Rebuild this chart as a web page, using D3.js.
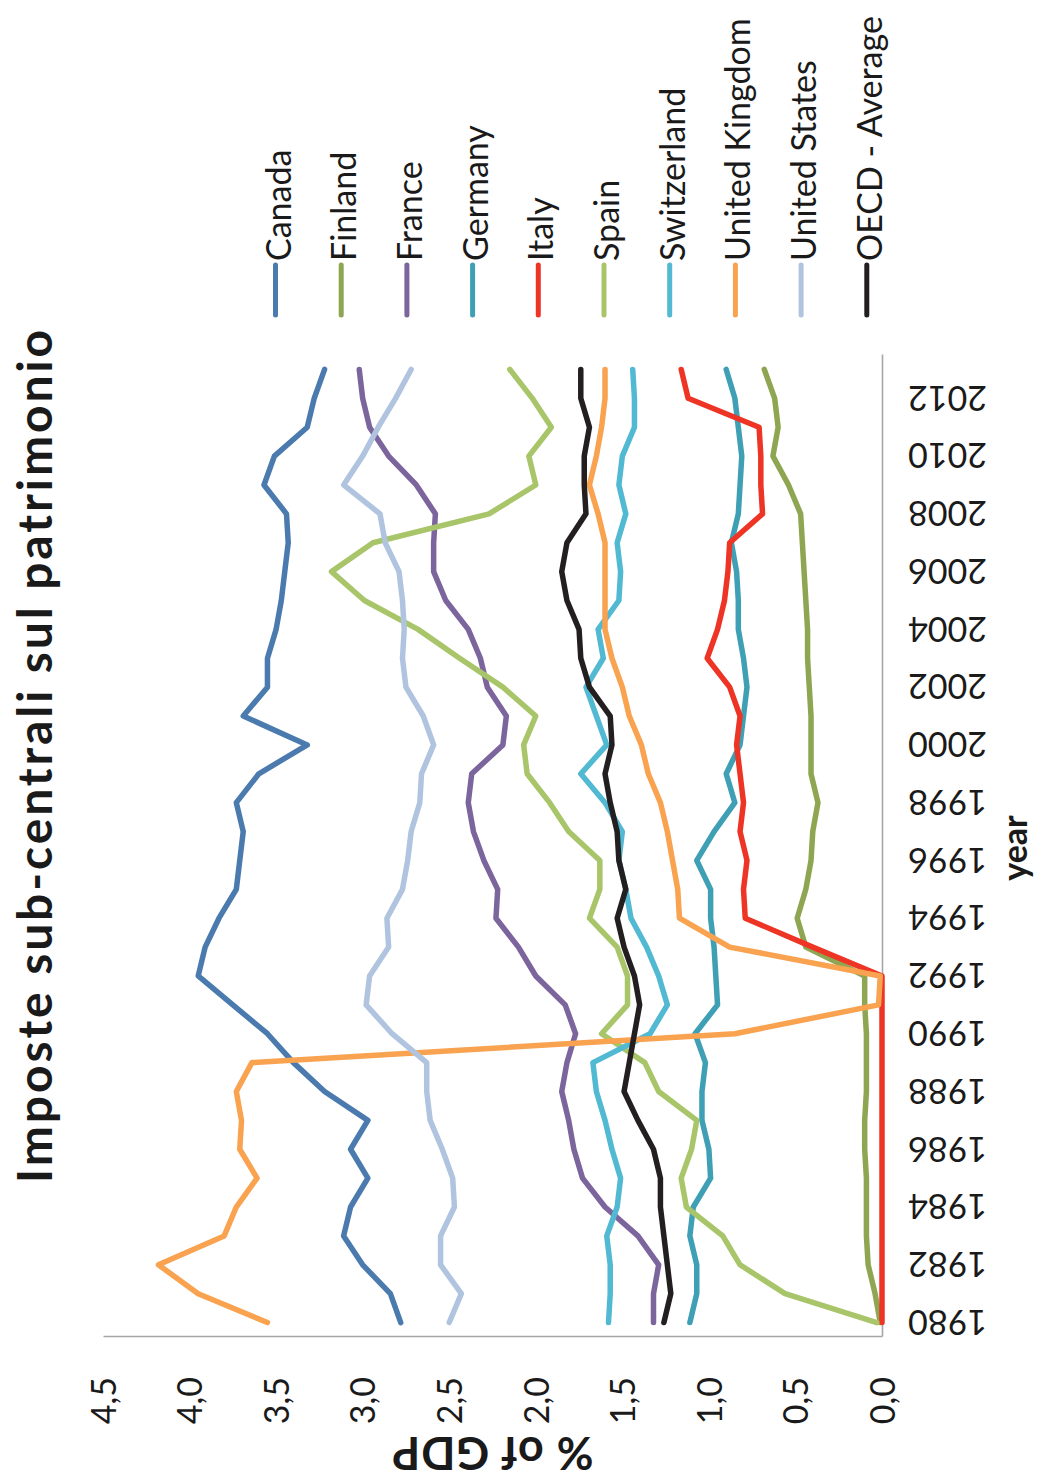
<!DOCTYPE html>
<html>
<head>
<meta charset="utf-8">
<script src="https://cdn.jsdelivr.net/npm/d3@7"></script>
<style>
  html, body { margin: 0; padding: 0; background: #ffffff; }
  svg { display: block; font-family: Lato, "Open Sans", sans-serif; }
</style>
</head>
<body>
<svg id="chart" width="1042" height="1484"></svg>
<script>
// Sub-central property taxes, % of GDP, 1980-2013
const years = [1980, 1981, 1982, 1983, 1984, 1985, 1986, 1987, 1988, 1989,
               1990, 1991, 1992, 1993, 1994, 1995, 1996, 1997, 1998, 1999,
               2000, 2001, 2002, 2003, 2004, 2005, 2006, 2007, 2008, 2009,
               2010, 2011, 2012, 2013];
const yearTicks = [1980, 1982, 1984, 1986, 1988, 1990, 1992, 1994, 1996,
                   1998, 2000, 2002, 2004, 2006, 2008, 2010, 2012];
const valueTicks = [0, 0.5, 1, 1.5, 2, 2.5, 3, 3.5, 4, 4.5];

const canada = [2.78, 2.84, 3.00, 3.11, 3.07, 2.97, 3.07, 2.97, 3.22, 3.40,
                3.55, 3.75, 3.95, 3.91, 3.83, 3.73, 3.71, 3.69, 3.73, 3.60,
                3.32, 3.69, 3.55, 3.55, 3.50, 3.47, 3.45, 3.43, 3.44, 3.57,
                3.51, 3.32, 3.28, 3.22];
const finland = [0.01, 0.04, 0.08, 0.09, 0.09, 0.09, 0.10, 0.10, 0.09, 0.09,
                 0.09, 0.10, 0.10, 0.44, 0.49, 0.44, 0.41, 0.40, 0.37, 0.41,
                 0.41, 0.41, 0.42, 0.43, 0.43, 0.44, 0.45, 0.46, 0.47, 0.54,
                 0.63, 0.60, 0.62, 0.68];
const france = [1.32, 1.32, 1.29, 1.41, 1.60, 1.73, 1.78, 1.81, 1.85, 1.82,
                1.77, 1.83, 2.00, 2.10, 2.23, 2.22, 2.30, 2.36, 2.39, 2.37,
                2.19, 2.17, 2.28, 2.32, 2.39, 2.52, 2.59, 2.59, 2.58, 2.69,
                2.85, 2.96, 3.00, 3.02];
const germany = [1.11, 1.07, 1.07, 1.11, 1.09, 0.99, 1.00, 1.04, 1.04, 1.02,
                 1.08, 0.95, 0.96, 0.97, 0.99, 0.99, 1.07, 0.97, 0.85, 0.90,
                 0.82, 0.80, 0.78, 0.80, 0.83, 0.83, 0.84, 0.87, 0.83, 0.82,
                 0.81, 0.83, 0.85, 0.90];
const italy = [0, 0, 0, 0, 0, 0, 0, 0, 0, 0,
               0, 0, 0, 0.40, 0.79, 0.80, 0.78, 0.82, 0.80, 0.82,
               0.84, 0.82, 0.88, 1.01, 0.95, 0.91, 0.89, 0.88, 0.69, 0.70,
               0.70, 0.71, 1.12, 1.16];
const spain = [0.03, 0.56, 0.82, 0.92, 1.13, 1.16, 1.10, 1.07, 1.29, 1.37,
               1.62, 1.47, 1.47, 1.53, 1.69, 1.63, 1.63, 1.81, 1.92, 2.05,
               2.07, 2.00, 2.19, 2.44, 2.68, 2.99, 3.18, 2.94, 2.27, 2.00,
               2.04, 1.91, 2.02, 2.15];
const switzerland = [1.58, 1.57, 1.57, 1.59, 1.53, 1.51, 1.56, 1.60, 1.65, 1.67,
                     1.34, 1.24, 1.29, 1.36, 1.45, 1.48, 1.52, 1.50, 1.60, 1.74,
                     1.59, 1.65, 1.71, 1.61, 1.64, 1.52, 1.51, 1.53, 1.48, 1.52,
                     1.50, 1.43, 1.43, 1.44];
const unitedKingdom = [3.55, 3.95, 4.18, 3.80, 3.73, 3.61, 3.71, 3.70, 3.73, 3.64,
                       0.85, 0.02, 0.01, 0.88, 1.17, 1.18, 1.21, 1.24, 1.28, 1.35,
                       1.39, 1.46, 1.50, 1.56, 1.60, 1.60, 1.60, 1.60, 1.64, 1.69,
                       1.65, 1.62, 1.60, 1.60];
const unitedStates = [2.50, 2.43, 2.55, 2.55, 2.47, 2.48, 2.54, 2.61, 2.63, 2.63,
                      2.83, 2.98, 2.96, 2.85, 2.86, 2.77, 2.74, 2.72, 2.67, 2.66,
                      2.59, 2.65, 2.75, 2.77, 2.76, 2.77, 2.79, 2.87, 2.90, 3.11,
                      3.00, 2.91, 2.81, 2.72];
const oecdAverage = [1.26, 1.22, 1.24, 1.26, 1.28, 1.28, 1.32, 1.41, 1.49, 1.46,
                     1.43, 1.40, 1.43, 1.49, 1.53, 1.48, 1.52, 1.53, 1.57, 1.60,
                     1.56, 1.57, 1.69, 1.74, 1.75, 1.82, 1.85, 1.82, 1.71, 1.72,
                     1.72, 1.69, 1.74, 1.74];

const seriesNames = ["Canada", "Finland", "France", "Germany", "Italy", "Spain",
                     "Switzerland", "United Kingdom", "United States", "OECD - Average"];
const seriesValues = [canada, finland, france, germany, italy, spain,
                      switzerland, unitedKingdom, unitedStates, oecdAverage];
const seriesColors = ["#4a7aae", "#8ea551", "#7b659c", "#3f9fb4", "#ee3424", "#a9c56a",
                      "#52b9d2", "#f9a24f", "#b0c4df", "#231f20"];

const series = seriesNames.map((name, i) => ({
  name,
  color: seriesColors[i],
  points: years.map((yr, j) => ({ year: yr, value: seriesValues[i][j] }))
}));

// The chart is laid out in a landscape frame (1484 wide, 1042 tall)
// and turned a quarter turn counter-clockwise onto the portrait page.
const PAGE_H = 1484;
const svg = d3.select("#chart");
const g = svg.append("g").attr("transform", `translate(0,${PAGE_H}) rotate(-90)`);

const x = d3.scalePoint().domain(years).range([147, 1129]).padding(0.5);
const y = d3.scaleLinear().domain([0, 4.5]).range([882, 103]);

const axisColor = "#a6a6a6";
const textColor = "#1a1a1a";

// Year axis
const xAxisG = g.append("g")
  .attr("transform", `translate(0,${y(0)})`)
  .call(d3.axisBottom(x).tickValues(yearTicks).tickSize(0).tickSizeOuter(0)
        .tickFormat(d3.format("d")));
xAxisG.select(".domain").attr("stroke", axisColor).attr("stroke-width", 1.6);
xAxisG.selectAll(".tick text")
  .attr("transform", "rotate(-90)")
  .attr("x", -26).attr("y", 0).attr("dy", "0.36em")
  .attr("text-anchor", "end")
  .attr("fill", textColor)
  .style("font-size", "34px")
  .style("font-family", "Lato, 'Open Sans', sans-serif");

// Value axis
const yAxisG = g.append("g")
  .attr("transform", `translate(147,0)`)
  .call(d3.axisLeft(y).tickValues(valueTicks).tickSize(0).tickSizeOuter(0).tickPadding(40)
        .tickFormat(d => d.toFixed(1).replace(".", ",")));
yAxisG.select(".domain").attr("stroke", axisColor).attr("stroke-width", 1.6);
yAxisG.selectAll(".tick text")
  .attr("dy", "0.36em")
  .attr("fill", textColor)
  .style("font-size", "34px")
  .style("font-family", "Lato, 'Open Sans', sans-serif");

// Series lines
const line = d3.line().x(d => x(d.year)).y(d => y(d.value));
g.append("g").selectAll("path")
  .data(series)
  .join("path")
  .attr("d", d => line(d.points))
  .attr("fill", "none")
  .attr("stroke", d => d.color)
  .attr("stroke-width", 5.5)
  .attr("stroke-linejoin", "round")
  .attr("stroke-linecap", "round");

// Title
g.append("text")
  .attr("x", 729).attr("y", 52)
  .attr("text-anchor", "middle")
  .attr("fill", textColor)
  .style("font-size", "48px").style("font-weight", "bold")
  .style("letter-spacing", "2.9px")
  .text("Imposte sub-centrali sul patrimonio");

// Axis titles
g.append("text")
  .attr("transform", `translate(47,${(y(0) + y(4.5)) / 2}) rotate(-90)`)
  .attr("text-anchor", "middle")
  .attr("fill", textColor)
  .style("font-size", "45px").style("font-weight", "bold")
  .style("letter-spacing", "1px")
  .text("% of GDP");

g.append("text")
  .attr("x", 636).attr("y", 1027)
  .attr("text-anchor", "middle")
  .attr("fill", textColor)
  .style("font-size", "34px").style("font-weight", "bold")
  .text("year");

// Legend
const legend = g.append("g").selectAll("g")
  .data(series)
  .join("g")
  .attr("transform", (d, i) => `translate(1169,${275.5 + 65.7 * i})`);
legend.append("line")
  .attr("x1", 0).attr("x2", 50).attr("y1", 0).attr("y2", 0)
  .attr("stroke", d => d.color)
  .attr("stroke-width", 5)
  .attr("stroke-linecap", "round");
legend.append("text")
  .attr("x", 54).attr("y", 15)
  .attr("fill", textColor)
  .style("font-size", "34px")
  .text(d => d.name);
</script>
</body>
</html>
